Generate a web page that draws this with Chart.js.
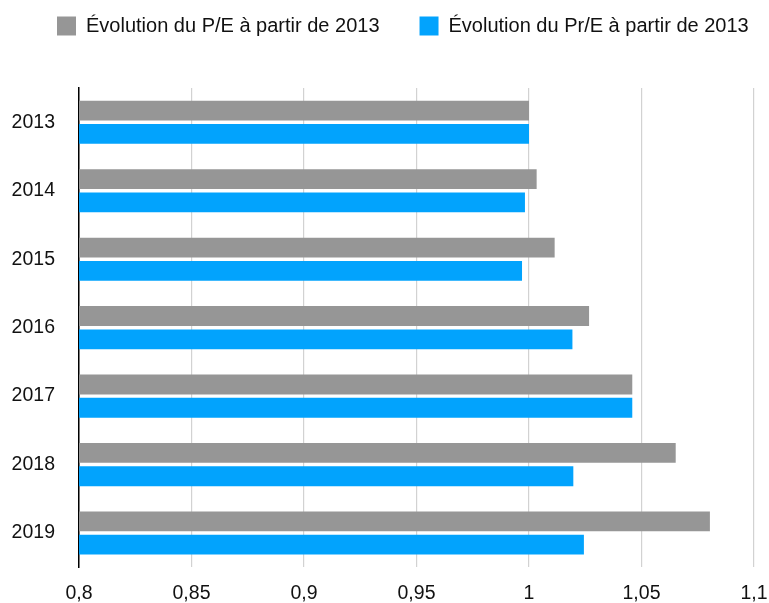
<!DOCTYPE html>
<html>
<head>
<meta charset="utf-8">
<script src="https://cdn.jsdelivr.net/npm/chart.js@4.4.0/dist/chart.umd.min.js"></script>
<style>
  html, body { margin: 0; padding: 0; background: #fff; }
  #wrap { width: 769px; height: 603px; }
</style>
</head>
<body>
<div id="wrap"><canvas id="myChart" width="769" height="603"></canvas></div>
<script>
var years = ["2013", "2014", "2015", "2016", "2017", "2018", "2019"]
var pe = [1.000, 1.0034, 1.0114, 1.0267, 1.0459, 1.0652, 1.0804]
var pre = [1.000, 0.9982, 0.9969, 1.0193, 1.0459, 1.0197, 1.0244]
var peLabel = "Évolution du P/E à partir de 2013"
var preLabel = "Évolution du Pr/E à partir de 2013"

var FONT = "'Liberation Sans', Arial, Helvetica, sans-serif"

function frNum(v){
    var s = (Math.round(v * 100) / 100).toString()
    return s.split('.').join(',')
}

// legend: fixed height so the plot starts at the right place,
// then moved up/left a bit like the original
var legendSize = {
    id: 'legendSize',
    beforeLayout: function(chart){
        var lg = chart.legend
        if (lg && !lg._patched) {
            var fit = lg.fit
            lg.fit = function(){
                fit.call(this)
                this.height = 88
            }
            lg._patched = true
        }
    },
    afterLayout: function(chart){
        var lg = chart.legend
        if (!lg) return
        var pad = lg.options.labels.padding
        // align start: first box at left + padding = 57
        lg.left = 57 - pad
        lg.right = 800
        lg.top = 16 - pad
        lg.bottom = lg.top + 88
    }
}

var ctx = document.getElementById("myChart").getContext('2d')
var chart = new Chart(ctx, {
    type: 'bar',
    data: {
        labels: years,
        datasets: [
            {
                label: peLabel,
                data: pe,
                backgroundColor: "#969696",
                categoryPercentage: 0.68,
                barPercentage: 0.85
            },
            {
                label: preLabel,
                data: pre,
                backgroundColor: "#02a3fd",
                categoryPercentage: 0.68,
                barPercentage: 0.85
            }
        ]
    },
    options: {
        indexAxis: 'y',
        locale: 'fr-FR',
        responsive: false,
        animation: false,
        layout: { padding: { left: 0, right: 15, top: 0, bottom: 0 } },
        plugins: {
            legend: {
                position: 'top',
                align: 'start',
                labels: {
                    boxWidth: 19,
                    boxHeight: 19,
                    padding: 40,
                    color: '#111',
                    font: { family: FONT, size: 20 }
                }
            },
            tooltip: { enabled: false }
        },
        scales: {
            x: {
                min: 0.8,
                max: 1.1,
                ticks: {
                    stepSize: 0.05,
                    color: '#111',
                    padding: 15,
                    font: { family: FONT, size: 19.5 },
                    callback: function(v){ return frNum(v) }
                },
                grid: { color: '#d2d2d2', lineWidth: 1.2, drawTicks: false },
                border: { display: false },
                afterFit: function(scale){
                    scale.height = 31
                    scale.paddingLeft = 0
                    scale.paddingRight = 0
                    // don't clip the commas at the bottom edge
                    scale._computeLabelArea = function(){ return undefined }
                }
            },
            y: {
                ticks: {
                    color: '#111',
                    padding: 24,
                    font: { family: FONT, size: 19.5 }
                },
                grid: { display: false, drawTicks: false },
                border: { display: true, color: '#000', width: 1.5 },
                afterFit: function(scale){ scale.width = 79 }
            }
        }
    },
    plugins: [legendSize]
})
</script>
</body>
</html>
